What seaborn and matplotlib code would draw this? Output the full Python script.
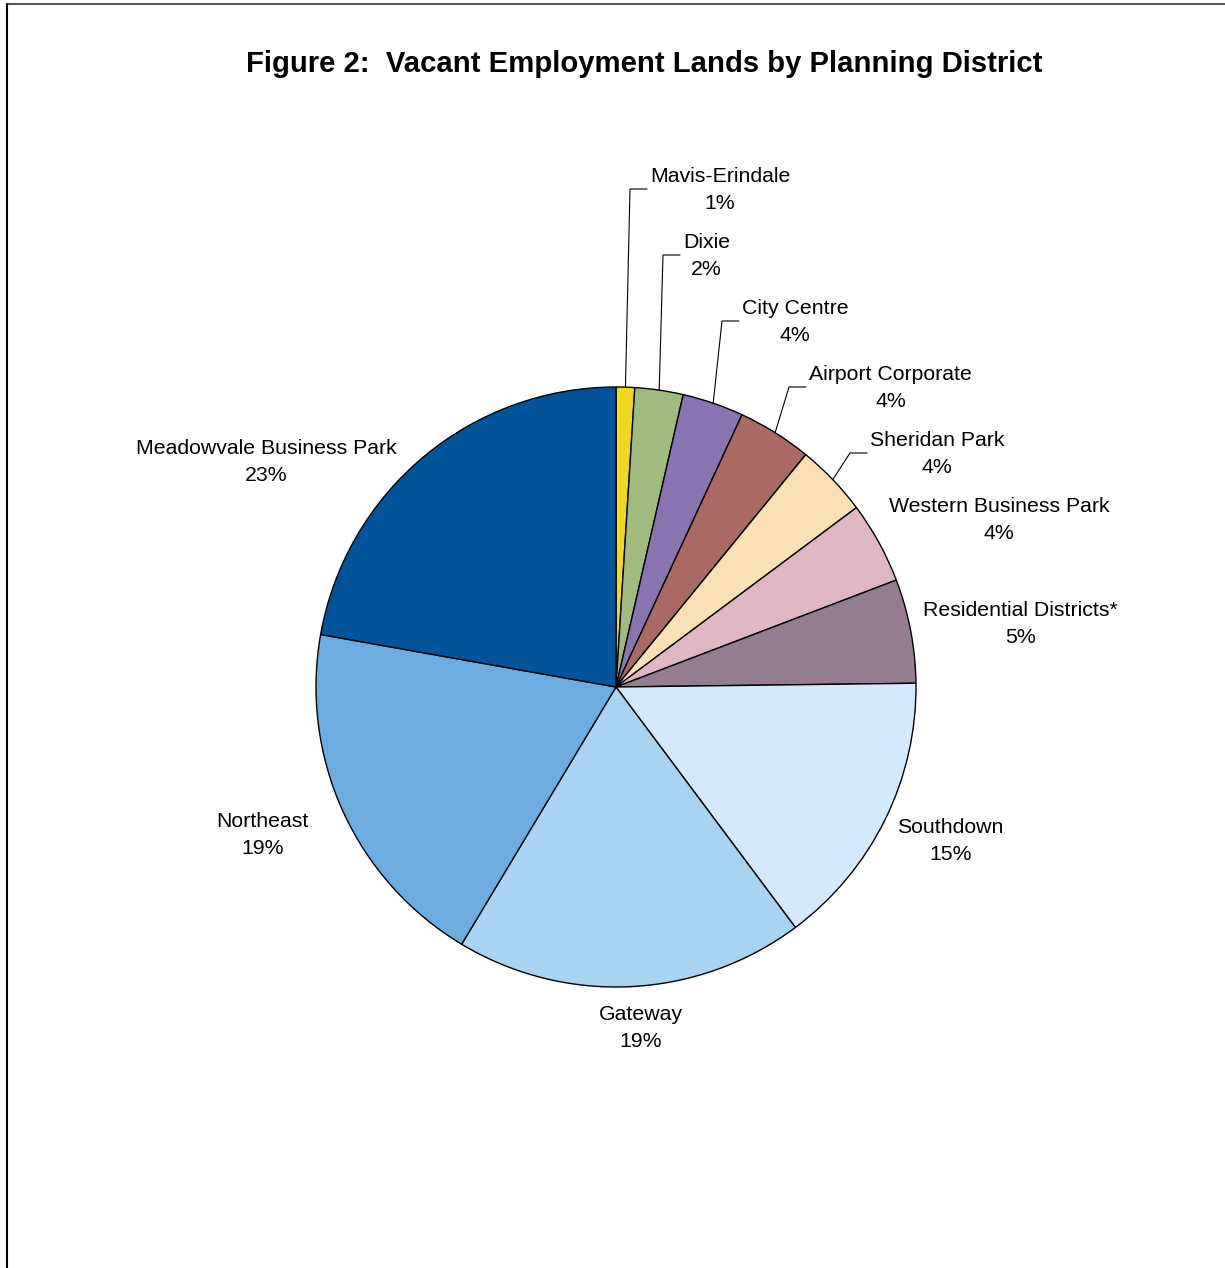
import matplotlib
matplotlib.use("Agg")
import matplotlib.pyplot as plt
from matplotlib.lines import Line2D
import numpy as np
import seaborn as sns

# ---- data ----
districts = ["Mavis-Erindale", "Dixie", "City Centre", "Airport Corporate",
             "Sheridan Park", "Western Business Park", "Residential Districts*",
             "Southdown", "Gateway", "Northeast", "Meadowvale Business Park"]
shares = [1.0, 2.6, 3.3, 4.0, 3.9, 4.4, 5.6, 15.0, 18.8, 19.2, 22.2]
pct_labels = ["1%", "2%", "4%", "4%", "4%", "4%", "5%", "15%", "19%", "19%", "23%"]
colors = ["#F1D81F", "#A1BA7E", "#8A73B1", "#AA6A64", "#F9E1B3", "#E0B6C3",
          "#967C90", "#D5E9FC", "#A6D4F2", "#6BADDF", "#00559A"]
title = "Figure 2:  Vacant Employment Lands by Planning District"

# ---- layout (pixel space) ----
W, H = 1225, 1268
CX, CY, R = 616, 687, 300
# label block: (left x, centre y) in pixels, and whether it has a leader line
label_pos = [(650, 190), (683, 256), (742, 322), (809, 388), (870, 454),
             (889, 520), (923, 624), (897, 841), (599, 1028), (216, 835), (136, 462)]
has_leader = [True, True, True, True, True, False, False, False, False, False, False]

sns.set_theme(style="white")
plt.rcParams["font.family"] = ["Liberation Sans", "DejaVu Sans"]

fig = plt.figure(figsize=(W / 100, H / 100), dpi=100)
ax = fig.add_axes([0, 0, 1, 1])
ax.set_xlim(0, W)
ax.set_ylim(0, H)
ax.axis("off")

ax.pie(shares, colors=colors, startangle=90, counterclock=False,
       center=(CX, H - CY), radius=R,
       wedgeprops=dict(edgecolor="black", linewidth=1.0))
ax.set_xlim(0, W)
ax.set_ylim(0, H)
ax.set_aspect("equal")

total = sum(shares)
cum = np.cumsum([0] + shares)
for i, name in enumerate(districts):
    lx, ly = label_pos[i]
    ax.text(lx, H - ly, f"{name}\n{pct_labels[i]}", ha="left", va="center",
            multialignment="center", fontsize=15.3, color="black", linespacing=1.48)
    if has_leader[i]:
        mid = (cum[i] + cum[i + 1]) / 2 / total
        theta = np.deg2rad(90 - 360 * mid)
        px, py = CX + R * np.cos(theta), (H - CY) + R * np.sin(theta)
        ex, ey = lx - 20, H - ly + 1
        ax.plot([px, ex, lx - 3], [py, ey, ey], color="black", lw=0.8)

fig.text(644.5 / W, 1 - 64 / H, title, ha="center", va="center",
         fontsize=21.1, fontweight="bold", color="black")

# figure frame (top and left edges)
fig.add_artist(Line2D([7 / W, 1], [1 - 4 / H, 1 - 4 / H], color="#555555", lw=1.5))
fig.add_artist(Line2D([7 / W, 7 / W], [0, 1 - 4 / H], color="black", lw=1.5))

fig.savefig("out.png", dpi=100, facecolor="white")
